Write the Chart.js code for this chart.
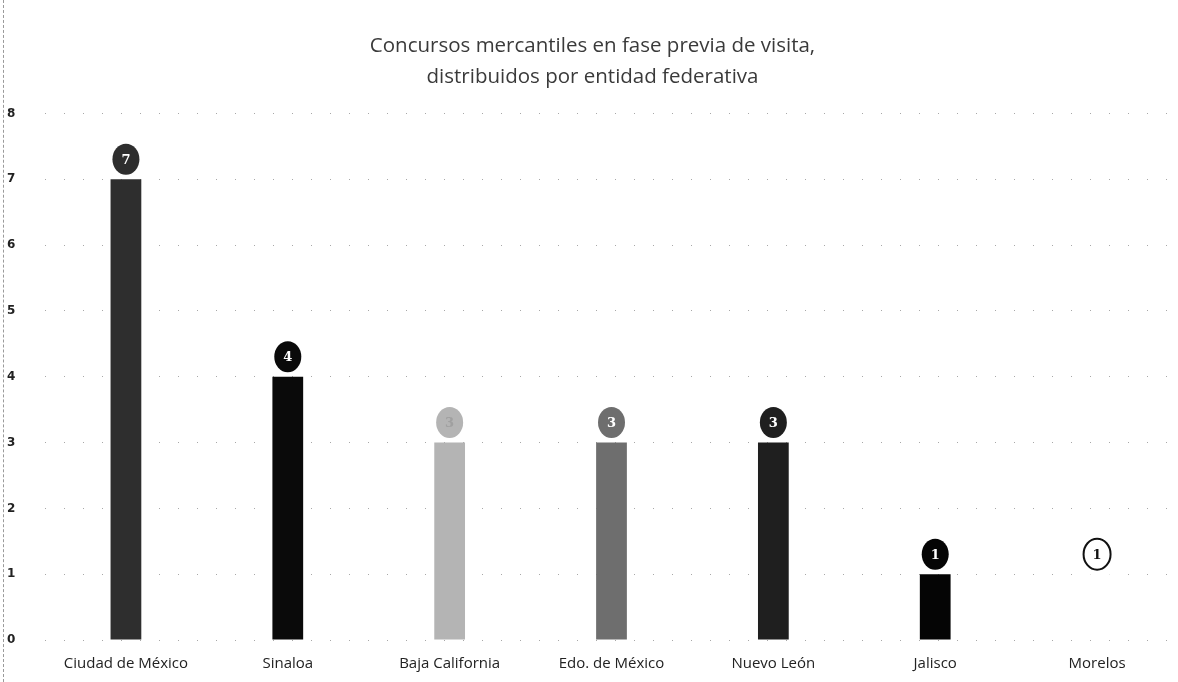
<!DOCTYPE html>
<html>
<head>
<meta charset="utf-8">
<script src="https://cdn.jsdelivr.net/npm/chart.js@4.4.1/dist/chart.umd.min.js"></script>
<style>
  html, body { margin: 0; padding: 0; background: #fff; }
  #wrap { position: relative; width: 1178px; height: 682px; }
  #wrap::before { content: ""; position: absolute; left: 3px; top: 0; bottom: 0; border-left: 1px dashed #9a9a9a; }
</style>
</head>
<body>
<div id="wrap"><canvas id="c" width="1178" height="682"></canvas></div>
<script>
// Concursos mercantiles en fase previa de visita, por entidad federativa
const titleLines = ['Concursos mercantiles en fase previa de visita,', 'distribuidos por entidad federativa'];
const categories = ['Ciudad de México', 'Sinaloa', 'Baja California', 'Edo. de México', 'Nuevo León', 'Jalisco', 'Morelos'];
const values = [7, 4, 3, 3, 3, 1, 1];
const barColors = ['#2e2e2e', '#0a0a0a', '#b4b4b4', '#6e6e6e', '#1f1f1f', '#050505', '#ffffff'];
const yTicks = [0, 1, 2, 3, 4, 5, 6, 7, 8];

// Oval value badges drawn above each bar
const badgePlugin = {
  id: 'badges',
  afterDatasetsDraw(chart) {
    const ctx = chart.ctx;
    const meta = chart.getDatasetMeta(0);
    const ys = chart.scales.y;
    meta.data.forEach((bar, i) => {
      const v = values[i];
      const cx = bar.x;
      const cy = ys.getPixelForValue(v) - 20;
      const fill = barColors[i];
      ctx.save();
      ctx.beginPath();
      ctx.ellipse(cx, cy, 13.5, 15.5, 0, 0, Math.PI * 2);
      ctx.fillStyle = fill;
      ctx.fill();
      if (fill === '#ffffff') {
        ctx.lineWidth = 2;
        ctx.strokeStyle = '#111';
        ctx.stroke();
      }
      const light = fill === '#b4b4b4';
      ctx.fillStyle = fill === '#ffffff' ? '#111' : (light ? '#a0a0a0' : '#ffffff');
      ctx.font = 'bold 13px "DejaVu Serif", serif';
      ctx.textAlign = 'center';
      ctx.textBaseline = 'middle';
      ctx.fillText(String(v), cx, cy + 1);
      ctx.restore();
    });
  }
};

new Chart(document.getElementById('c'), {
  type: 'bar',
  data: {
    labels: categories,
    datasets: [{
      data: values,
      backgroundColor: barColors,
      borderWidth: 0,
      barPercentage: 0.19,
      categoryPercentage: 1.0
    }]
  },
  options: {
    responsive: false,
    animation: false,
    layout: { padding: { top: 10, right: 0, bottom: 0, left: 7 } },
    plugins: {
      legend: { display: false },
      tooltip: { enabled: false },
      title: {
        display: true,
        text: titleLines,
        color: '#3a3a3a',
        font: { family: '"Open Sans", sans-serif', size: 20.5, weight: 'normal', lineHeight: 1.5 },
        padding: { top: 21, bottom: 21 }
      }
    },
    scales: {
      x: {
        afterFit(axis) { axis.height = 42; },
        grid: { display: false, drawTicks: false },
        border: { display: false },
        ticks: {
          color: '#222',
          font: { family: '"Open Sans", sans-serif', size: 15 },
          padding: 15,
          maxRotation: 0
        }
      },
      y: {
        min: 0,
        max: 8,
        afterBuildTicks(axis) { axis.ticks = yTicks.map(v => ({ value: v })); },
        afterFit(axis) { axis.width = 38; },
        grid: {
          color: '#a8a8a8',
          lineWidth: 1,
          drawTicks: false
        },
        border: { display: false, dash: [1, 18] },
        ticks: {
          color: '#222',
          crossAlign: 'far',
          font: { family: '"DejaVu Sans", sans-serif', size: 12, weight: 'bold' },
          padding: 8
        }
      }
    }
  },
  plugins: [badgePlugin]
});
</script>
</body>
</html>
